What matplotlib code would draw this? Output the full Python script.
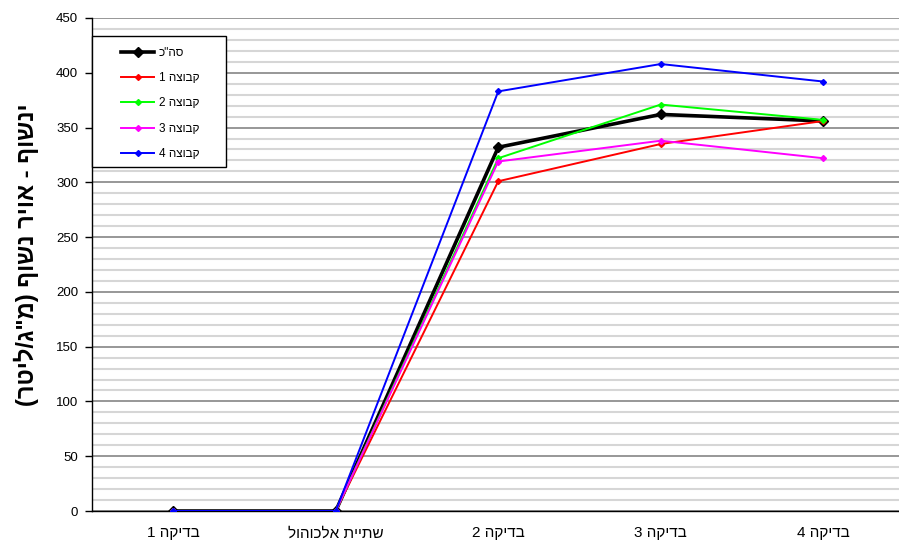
import matplotlib
matplotlib.use('Agg')
import matplotlib.pyplot as plt
from matplotlib.patches import Rectangle
from matplotlib.ticker import MultipleLocator

plt.rcParams['font.family'] = ['Liberation Sans', 'DejaVu Sans']

# נתוני מדידה לפי שלבי הבדיקה
bdikot = ['בדיקה 1', 'שתיית אלכוהול', 'בדיקה 2', 'בדיקה 3', 'בדיקה 4']
sah_hakol = [0, 0, 332, 362, 356]
kvutza_1 = [0, 0, 301, 335, 356]
kvutza_2 = [0, 0, 322, 371, 357]
kvutza_3 = [0, 0, 319, 338, 322]
kvutza_4 = [0, 0, 383, 408, 392]

shmot = ['סה"כ', 'קבוצה 1', 'קבוצה 2', 'קבוצה 3', 'קבוצה 4']
tsvaim = ['#000000', '#ff0000', '#00ff00', '#ff00ff', '#0000ff']
koteret_y = 'ינשוף - אויר נשוף (מ"ג/ליטר)'


def hafoch(s):
    # matplotlib draws left to right, so flip the Hebrew text by hand
    return s[::-1].translate(str.maketrans('()', ')('))


W, H = 899, 549
fig = plt.figure(figsize=(W / 100, H / 100), dpi=100)
ax = fig.add_axes([92 / W, 38 / H, 812.5 / W, 493 / H])

x = range(len(bdikot))
ax.plot(x, sah_hakol, color=tsvaim[0], lw=2.6, marker='D', ms=5,
        mec='#000000', label=hafoch(shmot[0]), zorder=3)
for i, sidra in enumerate([kvutza_1, kvutza_2, kvutza_3, kvutza_4], start=1):
    ax.plot(x, sidra, color=tsvaim[i], lw=1.4, marker='D', ms=3,
            mec=tsvaim[i], label=hafoch(shmot[i]), zorder=3 + i)

ax.set_xlim(-0.5, len(bdikot) - 0.5)
ax.set_ylim(0, 450)
ax.set_xticks(list(x))
ax.set_xticklabels([hafoch(b) for b in bdikot], fontsize=11)
ax.yaxis.set_major_locator(MultipleLocator(50))
ax.yaxis.set_minor_locator(MultipleLocator(10))
ax.tick_params(axis='y', which='major', labelsize=9.5, length=5, width=1, pad=5)
ax.tick_params(axis='y', which='minor', length=0)
ax.tick_params(axis='x', length=0, pad=11)

ax.grid(axis='y', which='minor', color='#d6d6d6', lw=1.5, zorder=0)
ax.grid(axis='y', which='major', color='#858585', lw=1.2, zorder=0)
ax.set_axisbelow(True)
for s in ['top', 'right']:
    ax.spines[s].set_visible(False)
for s in ['left', 'bottom']:
    ax.spines[s].set_linewidth(1.0)
    ax.spines[s].set_color('#000000')

fig.text(26 / W, 1 - 255 / H, hafoch(koteret_y), rotation=90,
         ha='center', va='center', fontsize=17, fontweight='bold')

# מסגרת המקרא
fig.patches.append(Rectangle((92 / W, 1 - 167 / H), 134 / W, 131 / H,
                             transform=fig.transFigure, facecolor='white',
                             edgecolor='black', lw=1.0, zorder=4))
h, l = ax.get_legend_handles_labels()
fig.legend(h, l, loc='upper left', bbox_to_anchor=(121 / W, 1 - 47 / H),
           frameon=False, fontsize=8.5, borderpad=0, borderaxespad=0,
           handlelength=2.8, handletextpad=0.4, labelspacing=1.12)

fig.savefig('out.png', dpi=100)
